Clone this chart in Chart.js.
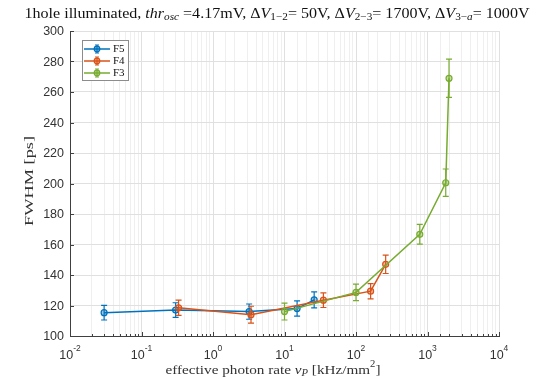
<!DOCTYPE html>
<html>
<head>
<meta charset="utf-8">
<script src="https://cdn.jsdelivr.net/npm/chart.js@4.4.0/dist/chart.umd.min.js"></script>
<style>
    html, body { margin: 0; padding: 0; background: #fff; }
    #wrap { width: 544px; height: 379px; }
</style>
</head>
<body>
<div id="wrap"><canvas id="chart" width="544" height="379"></canvas></div>
<script>
// Values (rate in kHz/mm^2, FWHM in ps)
const f5Rate = [0.03, 0.3, 3.2, 15, 26];
const f5Fwhm = [115.3, 117, 116, 118, 123.7];
const f5Err = [4.8, 4.8, 5, 5, 5.3];

const f4Rate = [0.33, 3.4, 35, 160, 260];
const f4Fwhm = [118.5, 114, 123.5, 129.4, 147];
const f4Err = [5, 5.5, 4.8, 5, 6];

const f3Rate = [10, 100, 780, 1800, 2000];
const f3Fwhm = [116, 128.6, 166.7, 200.5, 269];
const f3Err = [5.5, 5.4, 6.5, 9, 12.5];

const yTicks = [100, 120, 140, 160, 180, 200, 220, 240, 260, 280, 300];
const xExponents = [-2, -1, 0, 1, 2, 3, 4];

const seriesNames = ['F5', 'F4', 'F3'];
const colors = ['#0072BD', '#D95319', '#77AC30'];

const SERIF = '"Liberation Serif", "DejaVu Serif", serif';
const SANS = '"Liberation Sans", Arial, sans-serif';
const AXIS_COLOR = '#404040';

function toPoints(xs, ys) {
    return xs.map((x, i) => ({ x: x, y: ys[i] }));
}

// Helper to draw text made of runs (italic / subscript / superscript)
function runFont(r, size) {
    const s = (r.sub || r.sup) ? size * 0.7 : size;
    return (r.it ? 'italic ' : '') + s.toFixed(2) + 'px ' + SERIF;
}
function drawRuns(ctx, runs, cx, cy, size, width) {
    ctx.save();
    ctx.textBaseline = 'middle';
    ctx.textAlign = 'left';
    let w = 0;
    runs.forEach(r => {
        ctx.font = runFont(r, size);
        r.w = ctx.measureText(r.t).width;
        w += r.w;
    });
    const sx = width ? width / w : 1;
    ctx.translate(cx, cy);
    ctx.scale(sx, 1);
    let x = -w / 2;
    runs.forEach(r => {
        ctx.font = runFont(r, size);
        const dy = r.sub ? size * 0.28 : (r.sup ? -size * 0.38 : 0);
        ctx.fillText(r.t, x, dy);
        x += r.w;
    });
    ctx.restore();
}

const titleRuns = [
    { t: '1hole illuminated, ' },
    { t: 'thr', it: true }, { t: 'osc', it: true, sub: true },
    { t: ' =4.17mV, \u0394' },
    { t: 'V', it: true }, { t: '1\u22122', sub: true },
    { t: '= 50V, \u0394' },
    { t: 'V', it: true }, { t: '2\u22123', sub: true },
    { t: '= 1700V, \u0394' },
    { t: 'V', it: true }, { t: '3\u2212', sub: true }, { t: 'a', it: true, sub: true },
    { t: '= 1000V' }
];
const xTitleRuns = [
    { t: 'effective photon rate ' },
    { t: '\u03BD', it: true }, { t: 'P', it: true, sub: true },
    { t: ' [kHz/mm' }, { t: '2', sup: true }, { t: ']' }
];
const yTitleRuns = [{ t: 'FWHM [ps]' }];

// Error bars, drawn right after each dataset so layering follows it
const errorBars = {
    id: 'errorBars',
    afterDatasetDraw(chart, args) {
        const ds = chart.data.datasets[args.index];
        const xs = chart.scales.x, ys = chart.scales.y;
        const ctx = chart.ctx;
        ctx.save();
        ctx.strokeStyle = ds.borderColor;
        ctx.lineWidth = 1.2;
        ds.data.forEach((p, i) => {
            const e = ds.errors[i];
            const px = xs.getPixelForValue(p.x);
            const top = ys.getPixelForValue(p.y + e);
            const bot = ys.getPixelForValue(p.y - e);
            ctx.beginPath();
            ctx.moveTo(px, top); ctx.lineTo(px, bot);
            ctx.moveTo(px - 3, top); ctx.lineTo(px + 3, top);
            ctx.moveTo(px - 3, bot); ctx.lineTo(px + 3, bot);
            ctx.stroke();
        });
        ctx.restore();
    }
};

// Axis labels, tick marks, title and legend in MATLAB style
const decorations = {
    id: 'decorations',
    afterDraw(chart) {
        const ctx = chart.ctx;
        const area = chart.chartArea;
        const xs = chart.scales.x, ys = chart.scales.y;

        ctx.save();
        ctx.strokeStyle = AXIS_COLOR;
        ctx.lineWidth = 1;
        // inward tick marks
        yTicks.forEach(v => {
            const py = Math.round(ys.getPixelForValue(v)) + 0.5;
            ctx.beginPath();
            ctx.moveTo(area.left, py); ctx.lineTo(area.left + 4, py);
            ctx.stroke();
        });
        xs.ticks.forEach(t => {
            const major = isDecade(t.value);
            const px = Math.round(xs.getPixelForValue(t.value)) + 0.5;
            ctx.beginPath();
            ctx.moveTo(px, area.bottom); ctx.lineTo(px, area.bottom - (major ? 4 : 2));
            ctx.stroke();
        });

        // y tick labels
        ctx.fillStyle = '#333';
        ctx.font = '12.5px ' + SANS;
        ctx.textAlign = 'right';
        ctx.textBaseline = 'middle';
        yTicks.forEach(v => ctx.fillText(String(v), area.left - 6, ys.getPixelForValue(v) + 1));

        // x tick labels 10^n
        ctx.textAlign = 'left';
        xExponents.forEach(n => {
            const px = xs.getPixelForValue(Math.pow(10, n));
            ctx.font = '12.5px ' + SANS;
            const wb = ctx.measureText('10').width;
            ctx.font = '8.5px ' + SANS;
            const ws = ctx.measureText(String(n)).width;
            const x0 = px - (wb + ws) / 2;
            ctx.font = '12.5px ' + SANS;
            ctx.fillText('10', x0, 356);
            ctx.font = '8.5px ' + SANS;
            ctx.fillText(String(n), x0 + wb, 349);
        });

        // titles
        ctx.fillStyle = '#111';
        drawRuns(ctx, titleRuns, 277, 14, 14, 505);
        ctx.fillStyle = '#333';
        drawRuns(ctx, xTitleRuns, 273, 370, 13.5, 215);
        ctx.save();
        ctx.translate(30, 181);
        ctx.rotate(-Math.PI / 2);
        drawRuns(ctx, yTitleRuns, 0, 0, 12, 90);
        ctx.restore();

        // legend box
        const lx = 82, ly = 40, lw = 46, lh = 40;
        ctx.fillStyle = '#fff';
        ctx.fillRect(lx, ly, lw, lh);
        ctx.strokeStyle = '#8c8c8c';
        ctx.lineWidth = 1;
        ctx.strokeRect(lx + 0.5, ly + 0.5, lw, lh);
        const rows = [49, 61, 73];
        seriesNames.forEach((name, i) => {
            const y = rows[i];
            ctx.strokeStyle = colors[i];
            ctx.lineWidth = 1.5;
            ctx.beginPath();
            ctx.moveTo(84, y); ctx.lineTo(110, y);
            ctx.stroke();
            ctx.lineWidth = 1.2;
            ctx.beginPath();
            ctx.moveTo(97, y - 4); ctx.lineTo(97, y + 4);
            ctx.moveTo(95, y - 4); ctx.lineTo(99, y - 4);
            ctx.moveTo(95, y + 4); ctx.lineTo(99, y + 4);
            ctx.stroke();
            ctx.fillStyle = colors[i] + '80';
            ctx.beginPath();
            ctx.arc(97, y, 2.8, 0, Math.PI * 2);
            ctx.fill();
            ctx.stroke();
            ctx.fillStyle = '#111';
            ctx.font = '11px ' + SERIF;
            ctx.textAlign = 'left';
            ctx.textBaseline = 'middle';
            ctx.fillText(name, 113, y + 0.5);
        });
        ctx.restore();
    }
};

function isDecade(v) {
    const l = Math.log10(v);
    return Math.abs(l - Math.round(l)) < 1e-6;
}

function makeDataset(i, xs, ys, errs, order) {
    return {
        label: seriesNames[i],
        data: toPoints(xs, ys),
        errors: errs,
        borderColor: colors[i],
        backgroundColor: colors[i] + '66',
        borderWidth: 1.5,
        pointRadius: 3,
        pointBorderWidth: 1.2,
        pointBackgroundColor: colors[i] + '66',
        pointBorderColor: colors[i],
        tension: 0,
        order: order
    };
}

const ctx = document.getElementById('chart').getContext('2d');
new Chart(ctx, {
    type: 'line',
    data: {
        datasets: [
            makeDataset(0, f5Rate, f5Fwhm, f5Err, 3),
            makeDataset(1, f4Rate, f4Fwhm, f4Err, 2),
            makeDataset(2, f3Rate, f3Fwhm, f3Err, 1)
        ]
    },
    options: {
        responsive: false,
        animation: false,
        devicePixelRatio: 1,
        layout: { padding: { left: 70, right: 45, top: 31, bottom: 43 } },
        plugins: {
            legend: { display: false },
            title: { display: false },
            tooltip: { enabled: false }
        },
        scales: {
            x: {
                type: 'logarithmic',
                min: 0.01,
                max: 10000,
                ticks: { display: false },
                grid: {
                    drawTicks: false,
                    color: c => (c.tick && isDecade(c.tick.value)) ? '#e0e0e0' : '#efefef'
                },
                border: { color: AXIS_COLOR, width: 1 }
            },
            y: {
                type: 'linear',
                min: 100,
                max: 300,
                ticks: { display: false, stepSize: 20 },
                grid: { drawTicks: false, color: '#e0e0e0' },
                border: { color: AXIS_COLOR, width: 1 }
            }
        }
    },
    plugins: [errorBars, decorations]
});
</script>
</body>
</html>
